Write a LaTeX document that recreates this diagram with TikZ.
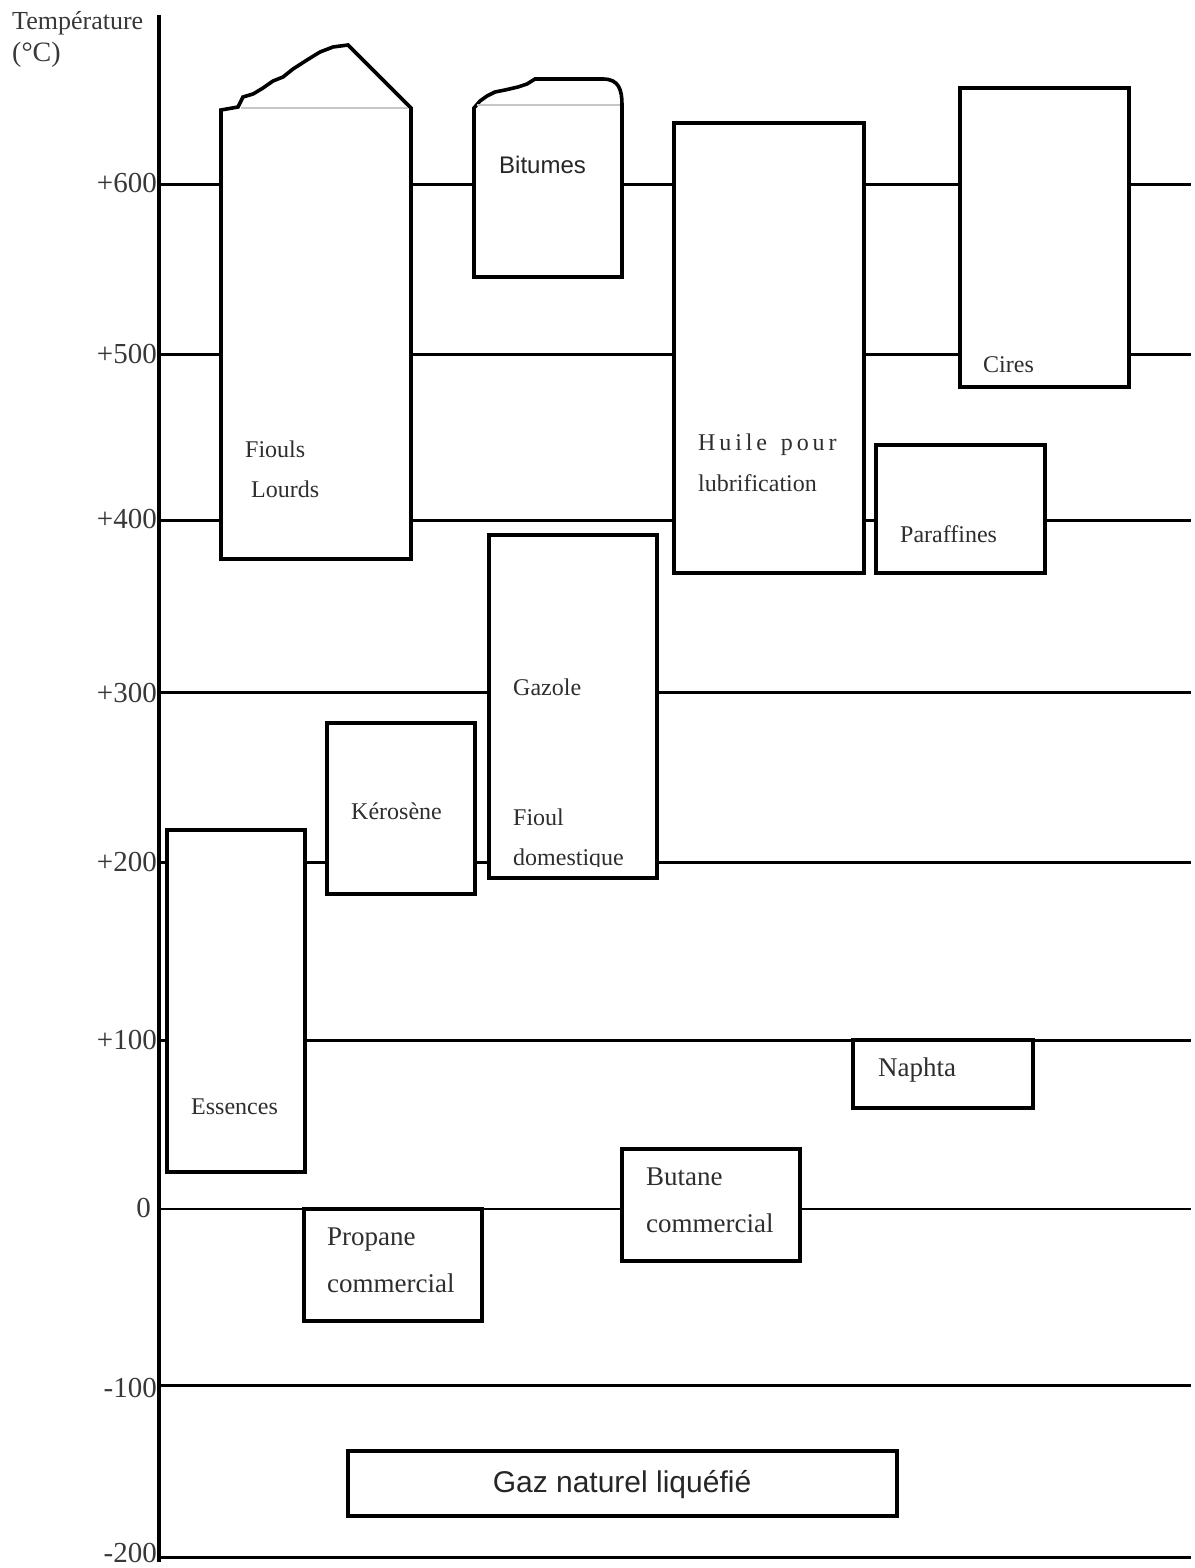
\documentclass[tikz,border=0pt]{standalone}
\usepackage{fontspec}
\setmainfont{Liberation Serif}
\setsansfont{Liberation Sans}
\newcommand\lsp{\hspace{3.9pt}}
\begin{document}
\begin{tikzpicture}[x=1pt,y=-1pt,
  gridline/.style={line width=3pt},
  zeroline/.style={line width=2pt},
  box/.style={line width=3.6pt, fill=white, line join=miter},
  capline/.style={gray!45, line width=1.2pt},
  lab/.style={font=\fontsize{24}{28}\selectfont, text=black!82, inner sep=0pt, anchor=base west},
  biglab/.style={font=\fontsize{27}{30}\selectfont, text=black!82, inner sep=0pt, anchor=base west},
  axlab/.style={font=\fontsize{29}{32}\selectfont, text=black!78, inner sep=0pt, anchor=east},
  sanslab/.style={font=\sffamily\fontsize{24}{28}\selectfont, text=black!85, inner sep=0pt, anchor=base west}]
\useasboundingbox (0,0) rectangle (1194,1568);

% axis title
\node[font=\fontsize{26}{30}\selectfont, text=black!78, inner sep=0pt, anchor=base west] (titre) at (12,30) {Température};
\node[font=\fontsize{28}{30}\selectfont, text=black!78, inner sep=0pt, anchor=base west] (unite) at (12,62) {(°C)};

% axis labels
\node[axlab] (t600) at (157,183) {+600};
\node[axlab] (t500) at (157,354) {+500};
\node[axlab] (t400) at (157,519) {+400};
\node[axlab] (t300) at (157,693) {+300};
\node[axlab] (t200) at (157,862) {+200};
\node[axlab] (t100) at (157,1040) {+100};
\node[axlab] (t0)   at (151,1208) {0};
\node[axlab] (tm100) at (157,1388) {-100};
\node[axlab] (tm200) at (157,1553) {-200};

% grid lines
\foreach \yy in {184,354,520,692,862,1040,1385,1557}
  \draw[gridline] (159,\yy) -- (1191,\yy);
\draw[zeroline] (159,1209) -- (1191,1209);

% vertical axis
\draw[line width=3.4pt] (159,15) -- (159,1562);

% Fiouls lourds
\draw[box] (221,559) -- (221,110) -- (238,107) -- (243,97) -- (253,94) -- (263,88) -- (273,81)
  -- (283,77) -- (293,69) -- (307,60) -- (320,52) -- (333,47) -- (348,45) -- (411,108) -- (411,559) -- cycle;
\draw[capline] (241,108) -- (408,108);
\node[lab] (fiouls) at (245,457) {Fiouls};
\node[lab] (lourds) at (251,497) {Lourds};

% Bitumes
\draw[box] (474,277) -- (474,108) -- (480,101) -- (487,96) -- (495,92) -- (505,90) -- (518,87)
  -- (527,84) -- (535,79) -- (603,79) .. controls (619,79) and (622,90) .. (622,105) -- (622,277) -- cycle;
\draw[capline] (477,105) -- (620,105);
\node[sanslab] (bitumes) at (499,173) {Bitumes};

% Huile pour lubrification
\draw[box] (674,123) rectangle (864,573);
\node[lab] (huile) at (698,450) {H\lsp u\lsp i\lsp l\lsp e\lsp{} \lsp p\lsp o\lsp u\lsp r};
\node[lab] (lubri) at (698,491) {lubrification};

% Cires
\draw[box] (960,88) rectangle (1129,387);
\node[lab] (cires) at (983,372) {Cires};

% Paraffines
\draw[box] (876,445) rectangle (1045,573);
\node[lab] (paraf) at (900,542) {Paraffines};

% Gazole / Fioul domestique
\draw[box] (489,535) rectangle (657,878);
\node[lab] (gazole) at (513,695) {Gazole};
\node[lab] (fioul) at (513,825) {Fioul};
\begin{scope}
  \clip (492,540) rectangle (654,866);
  \node[lab] (domest) at (513,865) {domestique};
\end{scope}

% Kerosene
\draw[box] (327,723) rectangle (475,894);
\node[lab] (kero) at (351,819) {Kérosène};

% Essences
\draw[box] (167,830) rectangle (305,1172);
\node[lab] (ess) at (191,1114) {Essences};

% Propane commercial
\draw[box] (304,1209) rectangle (482,1321);
\node[biglab] (prop1) at (327,1245) {Propane};
\node[biglab] (prop2) at (327,1292) {commercial};

% Butane commercial
\draw[box] (622,1149) rectangle (800,1261);
\node[biglab] (but1) at (646,1185) {Butane};
\node[biglab] (but2) at (646,1232) {commercial};

% Naphta
\draw[box] (853,1040) rectangle (1033,1108);
\node[biglab] (naphta) at (878,1076) {Naphta};

% Gaz naturel liquefie
\draw[box] (348,1451) rectangle (897,1516);
\node[font=\sffamily\fontsize{30}{34}\selectfont, text=black!85, inner sep=0pt, anchor=base] (gnl) at (622,1492) {Gaz naturel liquéfié};

\end{tikzpicture}
\end{document}
